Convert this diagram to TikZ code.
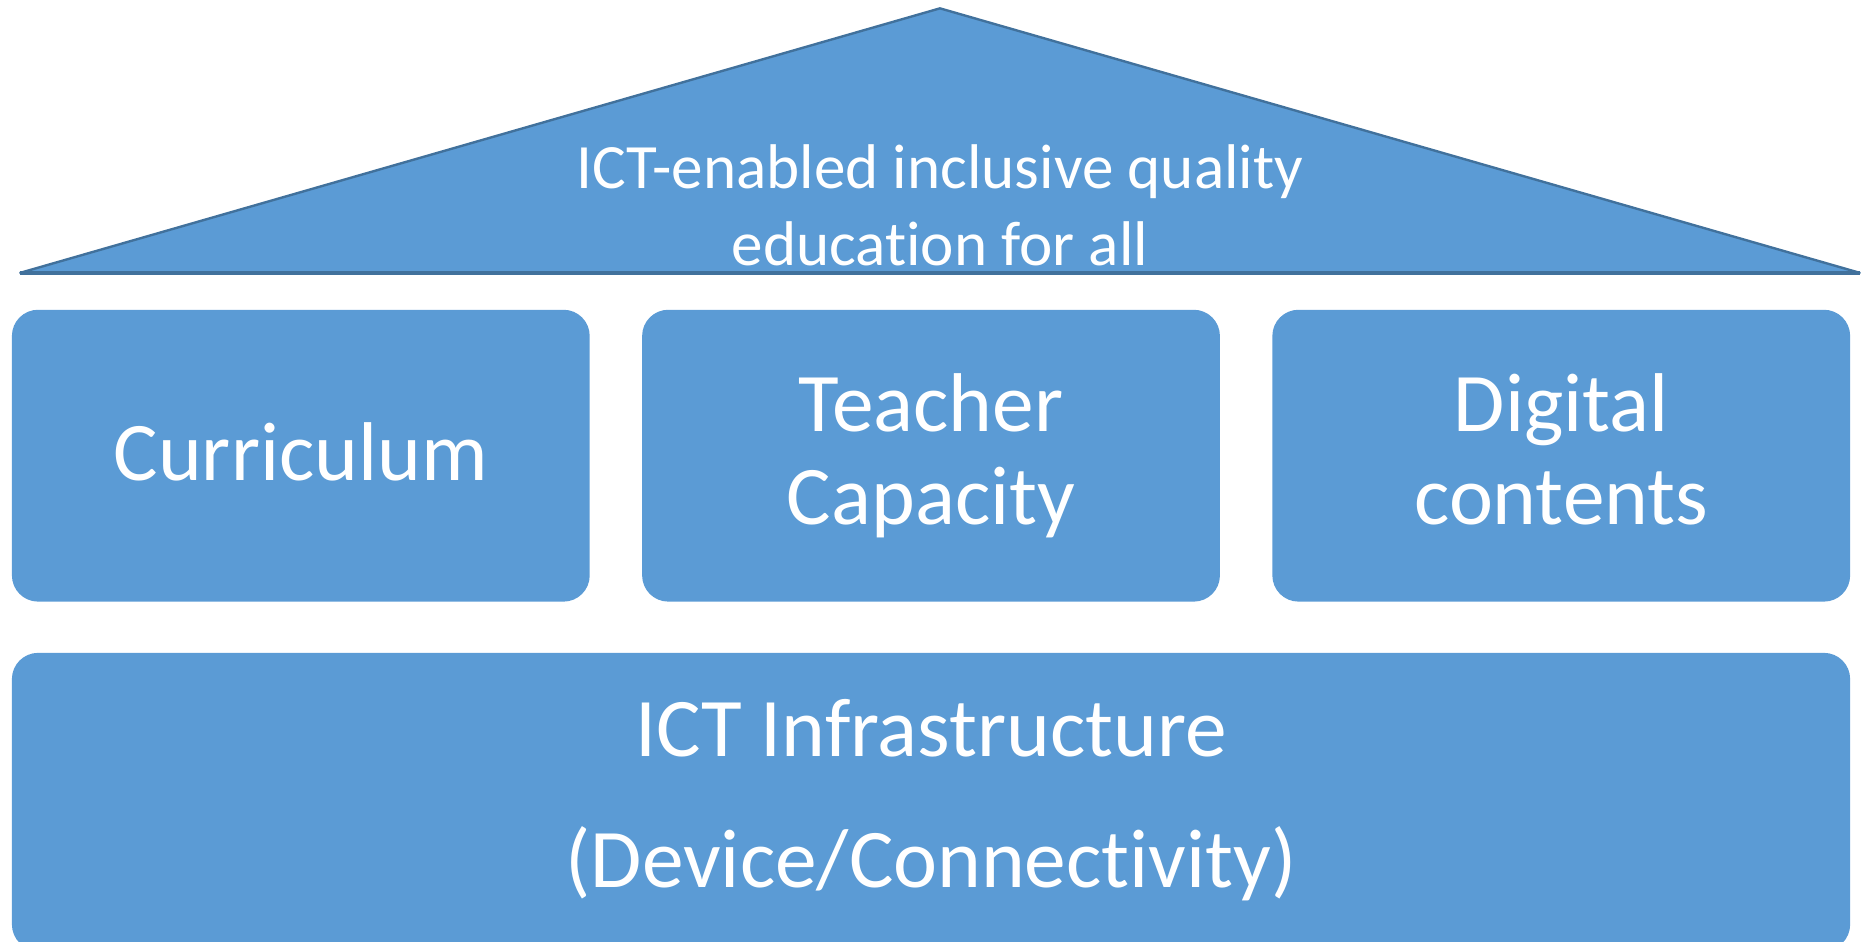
\documentclass[tikz,border=0pt]{standalone}
\usepackage{fontspec}
\setmainfont{Carlito}[Ligatures=NoCommon]
\definecolor{fillblue}{HTML}{5B9BD5}
\definecolor{edgeblue}{HTML}{41719C}
\begin{document}
\begin{tikzpicture}[x=1pt,y=-1pt,
  block/.style={fill=fillblue, draw=none, rounded corners=22pt, inner sep=0pt},
  roof/.style={fill=fillblue, draw=edgeblue, line width=2pt, line join=round},
  bigtxt/.style={text=white, anchor=base, inner sep=0pt, font=\fontsize{70}{84}\selectfont},
  rooftxt/.style={text=white, anchor=base, inner sep=0pt, font=\fontsize{53}{65}\selectfont}]
\useasboundingbox (0,0) rectangle (1568,790);
% roof
\coordinate (rl) at (17,229);
\coordinate (ra) at (789,7);
\coordinate (rr) at (1561,229);
\draw[roof] (rl) -- (ra) -- (rr) -- cycle;
\draw[edgeblue, line width=3pt] (rl) -- (rr);
\node[rooftxt] (r1) at (789,158) {ICT-enabled inclusive quality};
\node[rooftxt] (r2) at (789,223) {education for all};
% pillars
\node[block, minimum width=485pt, minimum height=245pt] (cur) at (252.5,382.5) {};
\node[block, minimum width=485pt, minimum height=245pt] (tea) at (781.5,382.5) {};
\node[block, minimum width=485pt, minimum height=245pt] (dig) at (1310.5,382.5) {};
\node[bigtxt] (curt) at (252.5,403) {Curriculum};
\node[bigtxt] (tea1) at (781.5,362) {Teacher};
\node[bigtxt] (tea2) at (781.5,440) {Capacity};
\node[bigtxt] (dig1) at (1310.5,362) {Digital};
\node[bigtxt] (dig2) at (1310.5,440) {contents};
% foundation
\node[block, minimum width=1543pt, minimum height=250pt] (inf) at (781.5,673) {};
\node[bigtxt] (inf1) at (781.5,635) {ICT Infrastructure};
\node[bigtxt] (inf2) at (781.5,745) {(Device/Connectivity)};
\end{tikzpicture}
\end{document}
